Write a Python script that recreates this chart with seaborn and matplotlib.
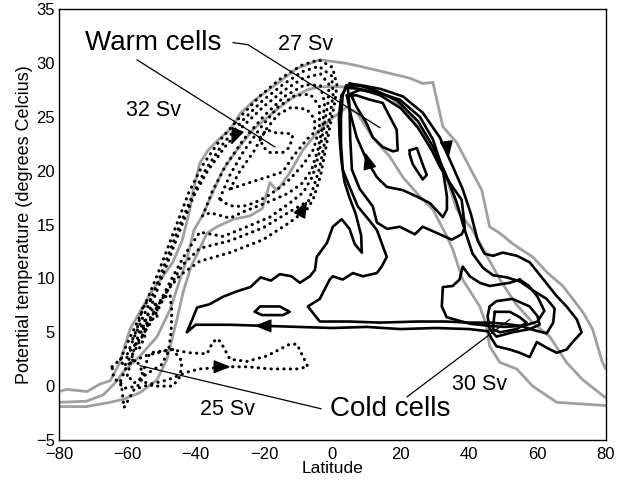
import matplotlib
matplotlib.use("Agg")
import matplotlib.pyplot as plt
import pandas as pd
import seaborn as sns

# ---------------- data (latitude, potential temperature) ----------------
gray_outer = [(-80,-0.5),(-77.7,-0.3),(-71.8,-0.5),(-68,0.2),(-65,0.5),(-62.2,2.2),(-59.2,5.3),(-55.4,7.4),
              (-52.5,9.0),(-49.6,10.2),(-46.7,11.5),(-44,13.5),(-42,16),(-40.5,18.5),(-38.8,20.7),(-36.4,21.9),
              (-33,23),(-30,23.8),(-27,25.3),(-23,26.5),(-17,27.9),(-10.4,29.5),(-3.7,30.3),(3.6,30),(8,29.7),
              (14.7,29.2),(22.6,28.6),(26.4,28.1),(29.4,28.2),(32.3,24.1),(36.4,22.6),(41,19.8),(43.7,18.2),
              (46,14.8),(49,14.2),(52.8,13.2),(58.6,12),(63,10.5),(67.4,9.3),(73.2,6.9),(76.1,5.3),(79,2.2),(80,1.6)]
gray_mid = [(-80,-1.5),(-72,-1.4),(-67,-0.8),(-63,0.5),(-61.3,1.3),(-56.3,2.8),(-51.3,4.6),(-47.5,7.1),
            (-44.6,9.9),(-42.6,11.8),(-40.5,14.5),(-37.9,15.9),(-35,18),(-32,20.1),(-28,21.9),(-23.3,23.8),
            (-17.4,25.4),(-12.5,26.6),(-7.5,27.5),(-3.7,27.8),(3,27.8),(10,27.5),(16.8,26.9),(21.8,25.4),
            (25.6,23.8),(29.4,21.7),(33.5,19.2),(36.4,16.4),(41,14.5),(45,12.2),(49,9.9),(53.5,7.7),(58.6,5.9),
            (63.6,4.6),(68.5,2.2),(73.2,0.6),(80,-1.1)]
gray_inner = [(-80,-1.9),(-72,-1.9),(-65,-1.5),(-61,-1.2),(-56.3,-0.6),(-51.3,0.6),(-48.4,2.5),(-45.5,6.2),
              (-43.7,8.7),(-41.5,11),(-38.8,12.8),(-36.7,14.2),(-33.8,14.8),(-29,15.5),(-24.2,15.8),(-20.5,16.5),
              (-18.3,18.9),(-16.3,18.2),(-15.4,18.5),(-12.5,19.8),(-8.7,21.9),(-4.6,23.5),(-0.8,24.7),(4.2,25.9),
              (7.1,25.4),(11.8,23.1),(16.8,21.3),(20.6,19.4),(25.6,17.6),(29.4,16.4),(33.5,13.9),(35.2,12.7),
              (38.1,9.9),(43.1,7.4),(45.1,5.6),(46,3.7),(49,2.2),(53.9,1.6),(58.6,0),(65.6,-1.5),(80,-1.8)]

# solid contours (northern warm cell and cold cell)
solid_A = [(5,28.1),(9,27.9),(14,27.6),(20.6,26.9),(26.4,25.4),(31.4,23.1),(35.2,20.4),(38.1,18.3),(40.5,16),
           (42.5,13.5),(44.5,12.3),(47,12.1),(49.8,12.4),(54,12.1),(57.7,11.5),(60.5,10.4),(63,9.4),(65.5,8.4),
           (68.5,7.4),(71.5,6.2),(72.9,5.0),(70.3,4.1),(68.5,3.4),(65.6,3.1),(62.5,3.6),(59.8,4.1),(57.7,2.7),
           (54.8,3.1),(51.9,3.4),(48,3.7),(46.6,4.4),(45.5,5.1),(40,5.3),(30,5.4),(20,5.3),(10,5.5),(0,5.4),
           (-10,5.5),(-20,5.6),(-30,5.7),(-40,5.7),(-42.6,5.0),(-41,6.2),(-39.6,7.3),(-36,7.6),(-32,8.3),
           (-28,8.8),(-24,9.2),(-21,10.1),(-18,9.8),(-15.4,10.4),(-12,10.2),(-9.5,9.6),(-6.6,10.2),(-5.1,10.8),
           (-4.6,12),(-1.6,13.3),(0.1,14.8),(2.7,15.5),(5,14.6),(6.5,13.2),(8.6,12.4),(8.4,14),(6.8,16),(5,17.5),
           (3.5,19),(2.6,21),(2.1,23),(1.9,25),(2.6,27),(5,28.1)]
solid_B = [(4,27.9),(8,27.9),(13,27.4),(19,26.5),(25,24.6),(29.5,22.2),(33,19.8),(36.2,17.2),(38.6,14.6),
           (41,12.3),(44,11.0),(47,10.3),(51,10.1),(55,9.7),(58.6,8.9),(62.7,8.1),(65,7.2),(64.6,5.9),(62.7,4.9),
           (59,5.2),(55,5.6),(50,5.8),(46,5.9),(40,5.9),(33,6.0),(25,6.0),(13.9,5.9),(5,6.0),(-3.7,6.0),
           (-7.2,7.4),(-3.7,8.1),(-0.8,9.9),(0.1,10.2),(3,9.9),(6,10.5),(8.9,10.2),(13,10.5),(14.4,11.1),
           (15.9,12),(13,14.5),(10.5,15.5),(7.4,16.7),(5,18.5),(3.0,20.1),(2.5,22.5),(2.5,25),(3,27),(4,27.9)]
solid_D = [(4.5,27.7),(5,26),(5.2,23),(5.7,20.1),(8,18.3),(11.8,16.7),(13,15.2),(16,14.6),(19.7,14.8),
           (24.1,14.1),(26.4,14.8),(30,14.3),(34.9,13.6),(37.8,14.1),(38.7,14.7),(38.3,16),(37.8,17.3),
           (34.3,18.9),(31.4,20.4),(29.1,21.9),(25,24),(20,25.8),(14,27),(8,27.6),(4.5,27.7)]
solid_C = [(4.2,27),(5.5,25),(7.1,23.1),(10,21),(13,19.4),(15.9,18.5),(20.6,18.2),(24.7,17.6),(28.5,17),
           (32.3,15.7),(33.5,16.4),(33.5,17.6),(32.3,20.1),(29.4,22.9),(25.6,25),(19.7,26.6),(13.9,27.2),
           (8,27.5),(4.2,27)]
solid_inner = [(5.5,27),(7.1,25.9),(10,24.4),(11.8,23.1),(14.7,22.2),(17.7,21.8),(19.1,21.9),(18.8,23.8),
               (16.8,25),(14.7,26.3),(10.9,26.6),(7,27),(5.5,27)]
solid_oval = [(22.6,21.9),(24.7,22.1),(26.4,20.6),(27.6,19.6),(26.4,19.2),(23.5,20.6),(22.6,21.5),(22.6,21.9)]
solid_island = [(-22.7,6.9),(-21.2,7.4),(-15.4,7.4),(-12.5,6.9),(-14.5,6.6),(-20.6,6.6),(-22.7,6.9)]
solid_E = [(54.8,9.9),(51.9,9.6),(46,9.3),(43.1,9.6),(40.2,10.2),(38.1,11.1),(37.2,9.9),(35.2,9.3),(32.3,9.2),
           (32,7.4),(33.4,6.4),(40.2,5.8),(46,5.6),(50,5.5),(56,5.6),(60,6.0),(62,7.0),(60,8.3),(57.5,9.3),(54.8,9.9)]
cold_K1 = [(47.5,6.9),(49,6.9),(51.9,6.9),(54.8,6.4),(56.8,5.9),(53.9,5.3),(49,5.0),(46.9,5.3),(47.5,6.9)]
cold_K2 = [(46,7.4),(48,7.9),(52.7,8.1),(57.7,7.4),(60,6.5),(60.6,5.7),(57.7,5.3),(52.7,5.0),(48,4.6),(46,5.3),
           (45.4,6.5),(46,7.4)]

# dotted contours (southern warm cell and cold cell)
dot_W1 = [(-62,2.5),(-60,4),(-57,6),(-54,8.2),(-51,10.5),(-48,13),(-45,15.5),(-42,18),(-38,20.5),(-33,22.8),
          (-27,25),(-21,27),(-15,28.6),(-9,29.8),(-4,30.3),(0,29.6),(1.3,28),(0.8,26.5),(-0.5,24.5),(-2,22),
          (-3.5,19.5),(-5.7,17.3),(-7.5,16.4),(-12.5,15.2),(-20.3,13.6),(-30,12.4),(-38.8,11.6),(-44.6,10.3),
          (-48,9),(-52,7),(-55,5),(-58,3.2),(-61,1.8),(-62,2.5)]
dot_W1b = [(-60,3),(-57,5.3),(-54,7.4),(-51,9.7),(-48,12.2),(-45,14.7),(-41.5,17.3),(-37.5,19.9),(-32.5,22.3),
           (-26.5,24.6),(-20.5,26.5),(-14.5,28),(-8.8,29.2),(-4,29.7),(-0.2,28.8),(0.2,27),(-0.8,25),(-2.2,22.8),
           (-3.8,20.2),(-5.5,18.5),(-7,17.2),(-12.5,16.2),(-20.3,14.7),(-30,13.5),(-38.8,12.8),(-44,11.2),
           (-48,9),(-52,6.5),(-56,4.5),(-60,3)]
dot_W2 = [(-56,5),(-53,7.5),(-50,10),(-47,12.5),(-44,15),(-40.5,17.7),(-36.5,20),(-31.5,22.2),(-26,24.2),
          (-20,26),(-14,27.5),(-8.5,28.6),(-3.5,29),(-1,28),(-1.3,26.3),(-2.5,24),(-4,21.5),(-5.8,19.5),
          (-8.5,18),(-12.5,17),(-18.3,15.7),(-25,14.8),(-32,13.9),(-38.8,14.3),(-43,12.3),(-47,10),(-51,7.5),(-56,5)]
dot_W3 = [(-38,15.8),(-35,18.2),(-31,20.6),(-26,22.9),(-20,25.1),(-14,26.9),(-8,28.0),(-3.5,27.9),(-2.3,26.3),
          (-2.8,24.3),(-4.2,22),(-6.2,20),(-9,18.8),(-13,17.9),(-18,17.2),(-22,16.7),(-26,16.2),(-30,15.6),
          (-35.8,16.1),(-38,15.8)]
dot_W4 = [(-33,17.4),(-30,19.6),(-26,21.8),(-21,24),(-16,25.9),(-11,27),(-6.5,27.1),(-3.8,26),(-3.8,24),
          (-5.5,22),(-8.5,20.6),(-12.5,19.2),(-16,18.3),(-19.2,17.6),(-23,17.0),(-26.2,16.7),(-29,16.7),
          (-31.5,17),(-33,17.4)]
dot_W5 = [(-30,18.3),(-27,20),(-23,21.8),(-19.5,23.8),(-16,25.2),(-12,25.9),(-7.5,25.7),(-5.2,24.8),(-5.2,23.6),
          (-7.5,22.9),(-11.6,21.3),(-14.5,19.9),(-19.2,19.4),(-24.2,18.9),(-30,18.3)]
dot_W6 = [(-21.2,23.1),(-19.2,23.8),(-16.3,23.5),(-13.3,23.5),(-11.6,23.3),(-12.5,22.2),(-14.5,21.7),
          (-18.3,21.7),(-20.3,22.2),(-21.2,23.1)]
dot_C1 = [(-62,0.5),(-60,2),(-55,2.8),(-50,3.2),(-47.5,3.4),(-41.7,3.1),(-36.7,3.0),(-35,4.1),(-33.5,4.4),
          (-32,3.7),(-30,2.5),(-25,2.3),(-19.2,2.8),(-12.5,3.9),(-10.4,3.9),(-8.7,2.8),(-7.2,1.8),(-10.4,1.6),
          (-18.3,1.6),(-25,1.8),(-30,1.8),(-38.8,1.6),(-42.6,1.3),(-48,0.6),(-53,0.2),(-58,-0.3),(-61,-2.0),
          (-61.5,-0.5),(-62,0.5)]
dot_C2 = [(-56.3,0.6),(-53.4,3.1),(-46.7,3.4),(-44,2.3),(-44.6,0.9),(-46.7,0),(-52.5,0),(-56.3,0.6)]
dot_C3 = [(-60,1),(-58,3.5),(-56,5.5),(-54,6.6),(-51.5,7.6),(-49.5,8.2),(-47.5,8.5),(-47,7),(-47.2,5),
          (-48,3.2),(-50,2),(-54,1.2),(-58,0.3),(-60,1)]
dot_C4 = [(-58.4,4.4),(-57.2,5.3),(-55.4,7.4),(-53.4,8.1),(-51.3,7.4),(-51.3,6.5),(-54.3,5.9),(-55,4.5),
          (-56.5,3.5),(-58.4,4.4)]
dot_C5 = [(-64.5,1.8),(-61,2.8),(-57,2.2),(-55,1.0),(-57,0),(-61,-0.2),(-64,0.8),(-64.5,1.8)]

# arrows: (tail, tip) -- short segments lying on the contours
arrow_pairs = [((-28.0,23.6),(-29.6,22.4)), ((-8.9,16.3),(-7.4,17.2)), ((-32.5,1.8),(-29.8,1.8)),
               ((-20.0,5.6),(-22.8,5.6)), ((10.6,20.6),(9.6,21.7)), ((33.4,22.5),(34.0,21.2))]

x_ticks = [-80, -60, -40, -20, 0, 20, 40, 60, 80]
y_ticks = [-5, 0, 5, 10, 15, 20, 25, 30, 35]

def frame(curves):
    rows = []
    for name, pts in curves.items():
        for i, (x, y) in enumerate(pts):
            rows.append({"curve": name, "order": i, "lat": x, "temp": y})
    return pd.DataFrame(rows)

gray_df = frame({"go": gray_outer, "gm": gray_mid, "gi": gray_inner})
solid_df = frame({"A": solid_A, "B": solid_B, "D": solid_D, "C": solid_C, "in": solid_inner,
                  "ov": solid_oval, "is": solid_island, "E": solid_E, "K1": cold_K1, "K2": cold_K2})
dot_df = frame({"W1": dot_W1, "W1b": dot_W1b, "W2": dot_W2, "W3": dot_W3, "W4": dot_W4, "W5": dot_W5,
                "W6": dot_W6, "C1": dot_C1, "C2": dot_C2, "C3": dot_C3, "C4": dot_C4, "C5": dot_C5})

sns.set_theme(style="white")
plt.rcParams["font.family"] = ["Liberation Sans", "DejaVu Sans"]
plt.rcParams["text.color"] = "black"
plt.rcParams["axes.labelcolor"] = "black"

fig = plt.figure(figsize=(6.25, 4.83), dpi=100)
ax = fig.add_axes([0.0944, 0.089, 0.875, 0.892])

sns.lineplot(data=gray_df, x="lat", y="temp", units="curve", estimator=None, sort=False,
             color="#a0a0a0", lw=2.0, ax=ax)
sns.lineplot(data=dot_df, x="lat", y="temp", units="curve", estimator=None, sort=False,
             color="black", lw=2.2, linestyle=(0, (0.1, 2.0)), dash_capstyle="round", ax=ax)
sns.lineplot(data=solid_df, x="lat", y="temp", units="curve", estimator=None, sort=False,
             color="black", lw=1.9, ax=ax)

for tail, tip in arrow_pairs:
    ax.annotate("", xy=tip, xytext=tail,
                arrowprops=dict(arrowstyle="-|>,head_length=0.8,head_width=0.32", color="black",
                                lw=1.0, shrinkA=0, shrinkB=0, mutation_scale=13))

# annotation leader lines
ax.plot([-57.2, -16.8], [30.3, 22.2], color="black", lw=0.9)
ax.plot([-29.1, -24.7, 13.9], [31.9, 31.7, 24.0], color="black", lw=0.9)
ax.plot([-56.3, -3.3], [1.9, -2.1], color="black", lw=0.9)
ax.plot([21.8, 51.9], [-1.0, 6.2], color="black", lw=0.9)

ax.text(-52.5, 31.9, "Warm cells", fontsize=20, ha="center", va="center")
ax.text(-8.0, 31.7, "27 Sv", fontsize=15.5, ha="center", va="center")
ax.text(-52.3, 25.6, "32 Sv", fontsize=15.5, ha="center", va="center")
ax.text(-30.6, -2.2, "25 Sv", fontsize=15.5, ha="center", va="center")
ax.text(43.0, 0.2, "30 Sv", fontsize=15.5, ha="center", va="center")
ax.text(16.8, -2.1, "Cold cells", fontsize=20, ha="center", va="center")

ax.set_xlim(-80, 80)
ax.set_ylim(-5, 35)
ax.set_xticks(x_ticks)
ax.set_yticks(y_ticks)
ax.tick_params(direction="in", length=5, width=1, labelsize=12, colors="black")
ax.tick_params(axis="x", pad=5)
ax.tick_params(axis="y", pad=3)
for s in ax.spines.values():
    s.set_color("black")
    s.set_linewidth(1.0)
ax.set_xlabel("Latitude", fontsize=12.5, labelpad=-1)
ax.set_ylabel("Potential temperature (degrees Celcius)", fontsize=13, labelpad=2)

fig.savefig("out.png", dpi=100)
